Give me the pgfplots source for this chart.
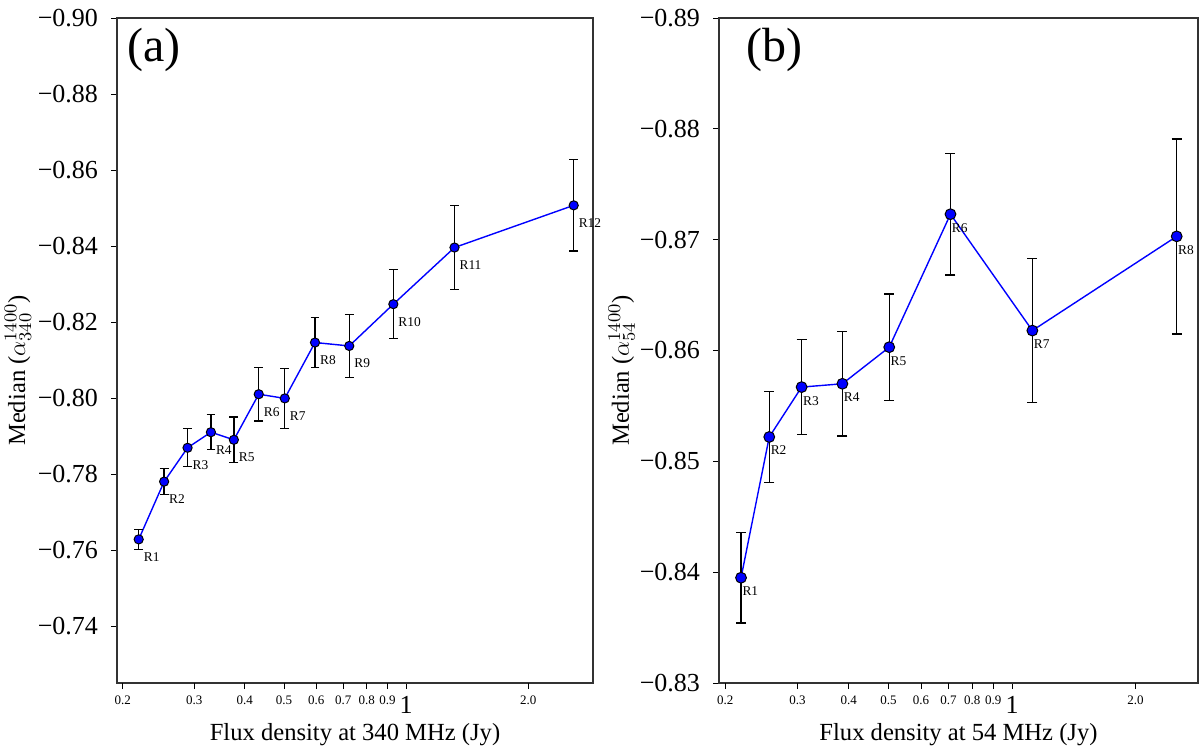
\documentclass[border=0pt]{standalone}
\usepackage{fontspec}
\setmainfont{Liberation Serif}
\usepackage{pgfplots}
\usepackage{pgfplotstable}
\pgfplotsset{compat=1.18}

% panel (a): flux density at 340 MHz
\pgfplotstableread{
x      y        e       lab
0.219  -0.7628  0.0026  R1
0.253  -0.7780  0.0034  R2
0.289  -0.7869  0.0050  R3
0.330  -0.7910  0.0046  R4
0.376  -0.7890  0.0060  R5
0.433  -0.8010  0.0070  R6
0.502  -0.7999  0.0079  R7
0.596  -0.8146  0.0066  R8
0.724  -0.8137  0.0083  R9
0.930  -0.8247  0.0091  R10
1.316  -0.8396  0.0110  R11
2.590  -0.8507  0.0120  R12
}\dataA

% panel (b): flux density at 54 MHz
\pgfplotstableread{
x      y        e       lab
0.2185 -0.8395  0.0041  R1
0.256  -0.8522  0.0041  R2
0.307  -0.8567  0.0043  R3
0.386  -0.8570  0.0047  R4
0.502  -0.8603  0.0048  R5
0.708  -0.8723  0.0055  R6
1.121  -0.8618  0.0065  R7
2.520  -0.8703  0.0088  R8
}\dataB

\begin{document}
\begin{tikzpicture}
\path[use as bounding box] (0,0) rectangle (600pt,375.5pt);

\begin{semilogxaxis}[scale only axis, anchor=south west,
  at={(58.5pt,34pt)}, width=238pt, height=332.5pt,
  y dir=reverse,
  axis line style={black!80, line width=0.6pt},
  tick align=outside, xtick pos=bottom, ytick pos=left,
  major tick length=3pt, tick style={black, line width=0.5pt},
  xtick={1}, xticklabels={1}, minor xtick={},
  extra x ticks={0.2,0.3,0.4,0.5,0.6,0.7,0.8,0.9,2},
  extra x tick labels={0.2,0.3,0.4,0.5,0.6,0.7,0.8,0.9,2.0},
  extra x tick style={tick label style={font=\fontsize{6.5}{7}\selectfont}},
  tick label style={font=\fontsize{13}{15}\selectfont},
  yticklabel style={xshift=-3pt},
  label style={font=\fontsize{12.3}{14}\selectfont},
  xmin=0.1936, xmax=2.89, ymin=-0.90, ymax=-0.725,
  ytick={-0.90,-0.88,-0.86,-0.84,-0.82,-0.80,-0.78,-0.76,-0.74},
  yticklabels={−0.90,−0.88,−0.86,−0.84,−0.82,−0.80,−0.78,−0.76,−0.74},
  xlabel={Flux density at 340 MHz (Jy)},
  xlabel style={anchor=center, at={(axis description cs:0.5,-0.078)}},
  ylabel={Median ($\alpha_{340}^{1400}$)},
  ylabel style={anchor=center, at={(axis description cs:-0.208,0.47)}},
]
\addplot[blue, line width=0.7pt, mark=*, mark size=2.3pt,
  mark options={fill=blue, draw=black, line width=0.5pt},
  point meta=explicit symbolic, nodes near coords,
  every node near coord/.append style={anchor=north west, text=black,
    font=\fontsize{6.7}{7}\selectfont, inner sep=0pt, xshift=2.3pt, yshift=-6.3pt},
  error bars/.cd, y dir=both, y explicit,
  error bar style={black, line width=0.7pt},
  error mark options={rotate=90, black, mark size=2.2pt, line width=0.7pt}]
  table[x=x, y=y, y error=e, meta=lab] {\dataA};
\node[font=\fontsize{24}{26}\selectfont] at (rel axis cs:0.078,0.952) {(a)};
\end{semilogxaxis}

\begin{semilogxaxis}[scale only axis, anchor=south west,
  at={(359.5pt,34pt)}, width=239.5pt, height=332.5pt,
  y dir=reverse,
  axis line style={black!80, line width=0.6pt},
  tick align=outside, xtick pos=bottom, ytick pos=left,
  major tick length=3pt, tick style={black, line width=0.5pt},
  xtick={1}, xticklabels={1}, minor xtick={},
  extra x ticks={0.2,0.3,0.4,0.5,0.6,0.7,0.8,0.9,2},
  extra x tick labels={0.2,0.3,0.4,0.5,0.6,0.7,0.8,0.9,2.0},
  extra x tick style={tick label style={font=\fontsize{6.5}{7}\selectfont}},
  tick label style={font=\fontsize{13}{15}\selectfont},
  yticklabel style={xshift=-3pt},
  label style={font=\fontsize{12.3}{14}\selectfont},
  xmin=0.1931, xmax=2.84, ymin=-0.89, ymax=-0.83,
  ytick={-0.89,-0.88,-0.87,-0.86,-0.85,-0.84,-0.83},
  yticklabels={−0.89,−0.88,−0.87,−0.86,−0.85,−0.84,−0.83},
  xlabel={Flux density at 54 MHz (Jy)},
  xlabel style={anchor=center, at={(axis description cs:0.5,-0.078)}},
  ylabel={Median ($\alpha_{54}^{1400}$)},
  ylabel style={anchor=center, at={(axis description cs:-0.203,0.47)}},
]
\addplot[blue, line width=0.7pt, mark=*, mark size=2.7pt,
  mark options={fill=blue, draw=black, line width=0.5pt},
  point meta=explicit symbolic, nodes near coords,
  every node near coord/.append style={anchor=north west, text=black,
    font=\fontsize{6.7}{7}\selectfont, inner sep=0pt, xshift=0.5pt, yshift=-4.3pt},
  error bars/.cd, y dir=both, y explicit,
  error bar style={black, line width=0.7pt},
  error mark options={rotate=90, black, mark size=2.5pt, line width=0.7pt}]
  table[x=x, y=y, y error=e, meta=lab] {\dataB};
\node[font=\fontsize{24}{26}\selectfont] at (rel axis cs:0.115,0.952) {(b)};
\end{semilogxaxis}
\end{tikzpicture}
\end{document}
